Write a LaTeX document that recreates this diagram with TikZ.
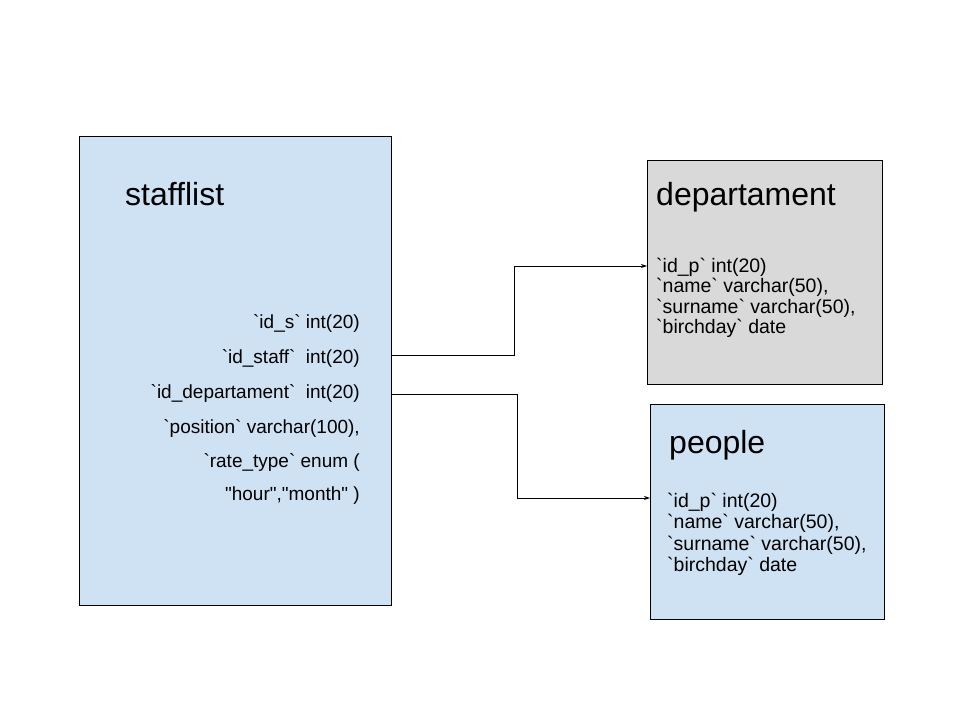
\documentclass[tikz,border=0pt]{standalone}
\usepackage{fontspec}
\setmainfont{Liberation Sans}[Ligatures=TeXOff]
\usetikzlibrary{arrows.meta}
\definecolor{tblblue}{HTML}{CFE2F3}
\definecolor{tblgray}{HTML}{D9D9D9}
\newcommand\bq{\symbol{96}}
\newcommand\dq{\symbol{34}}
\tikzset{
  tbl/.style={draw=black, line width=0.8pt, anchor=north west, inner sep=0pt},
  ttl/.style={anchor=base west, inner sep=0pt, font=\fontsize{32}{36}\selectfont},
  rowr/.style={anchor=base east, inner sep=0pt, font=\fontsize{19}{22}\selectfont},
  rowl/.style={anchor=base west, inner sep=0pt, font=\fontsize{19.5}{22}\selectfont},
  conn/.style={draw=black, line width=0.8pt, -{Stealth[length=6pt,width=4pt]}}
}
\begin{document}
\begin{tikzpicture}[x=1pt,y=-1pt]
\useasboundingbox (0,0) rectangle (960,720);
\fill[white] (0,0) rectangle (960,720);
% boxes
\node[tbl, fill=tblblue, minimum width=312pt, minimum height=469pt] (staff) at (79,136) {};
\node[tbl, fill=tblgray, minimum width=235pt, minimum height=224pt] (dep) at (647,160) {};
\node[tbl, fill=tblblue, minimum width=234pt, minimum height=215pt] (ppl) at (650,404) {};
% stafflist
\node[ttl] (stitle) at (125,205) {stafflist};
\node[rowr] (s1) at (360,328) {\bq id\_s\bq{} int(20)};
\node[rowr] (s2) at (360,363) {\bq id\_staff\bq\ \ int(20)};
\node[rowr] (s3) at (360,398) {\bq id\_departament\bq\ \ int(20)};
\node[rowr] (s4) at (360,433) {\bq position\bq{} varchar(100),};
\node[rowr] (s5) at (360,467) {\bq rate\_type\bq{} enum (};
\node[rowr] (s6) at (360,500) {\dq hour\dq,\dq month\dq{} )};
% departament
\node[ttl] (dtitle) at (656,205) {departament};
\node[rowl] (d1) at (656,272) {\bq id\_p\bq{} int(20)};
\node[rowl] (d2) at (656,292.5) {\bq name\bq{} varchar(50),};
\node[rowl] (d3) at (656,313) {\bq surname\bq{} varchar(50),};
\node[rowl] (d4) at (656,333.5) {\bq birchday\bq{} date};
% people
\node[ttl] (ptitle) at (669,453) {people};
\node[rowl] (p1) at (667,507) {\bq id\_p\bq{} int(20)};
\node[rowl] (p2) at (667,528.5) {\bq name\bq{} varchar(50),};
\node[rowl] (p3) at (667,550) {\bq surname\bq{} varchar(50),};
\node[rowl] (p4) at (667,571.5) {\bq birchday\bq{} date};
% connectors
\coordinate (a1) at (staff.east |- 0,355);
\coordinate (b1) at (dep.west |- 0,266);
\coordinate (a2) at (staff.east |- 0,394);
\coordinate (b2) at (ppl.west |- 0,498);
\draw[conn] (a1) -- (514,355) -- (514,266) -- (b1);
\draw[conn] (a2) -- (517,394) -- (517,498) -- (b2);
\end{tikzpicture}
\end{document}
